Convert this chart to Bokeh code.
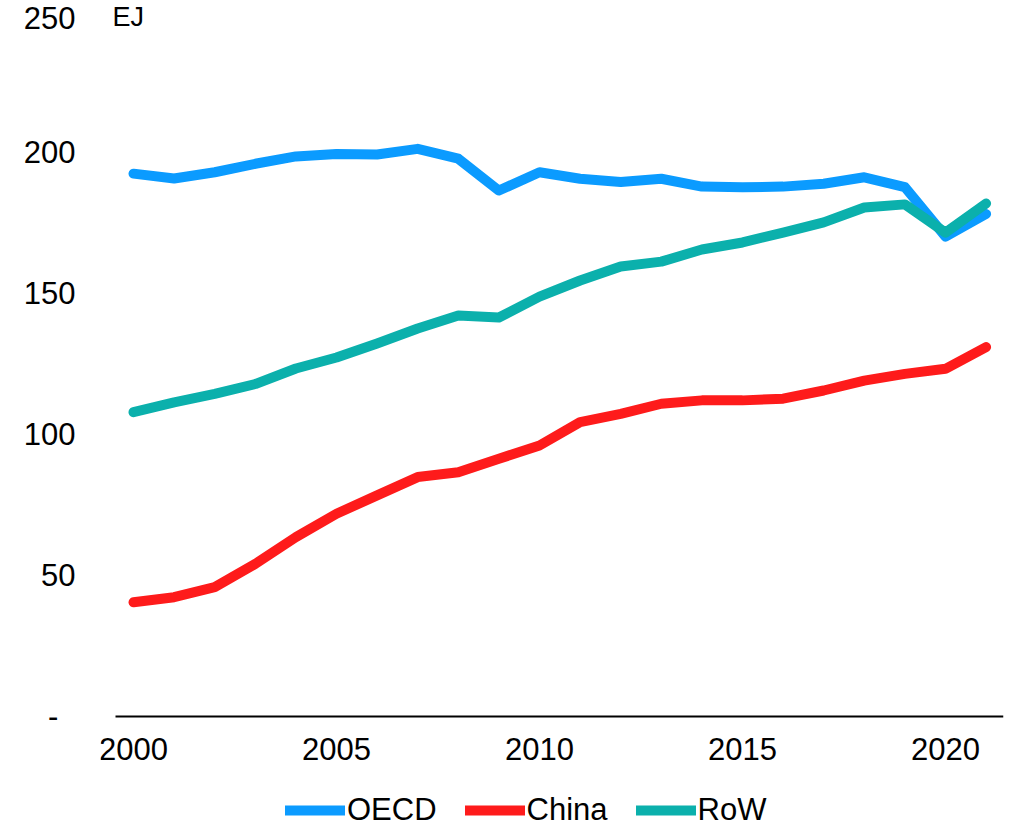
from bokeh.plotting import figure
from bokeh.models import Range1d, FixedTicker, Legend, LegendItem, Label
from bokeh.embed import file_html
from bokeh.resources import INLINE

years = [2000, 2001, 2002, 2003, 2004, 2005, 2006, 2007, 2008, 2009, 2010,
         2011, 2012, 2013, 2014, 2015, 2016, 2017, 2018, 2019, 2020, 2021]
oecd = [192.5, 190.8, 193.0, 196.0, 198.6, 199.5, 199.3, 201.3, 197.8, 186.5, 193.0,
        190.7, 189.5, 190.7, 187.9, 187.7, 187.9, 188.9, 191.2, 187.7, 170.2, 178.2]
china = [40.5, 42.3, 45.9, 54.1, 63.6, 71.9, 78.4, 84.9, 86.6, 91.4, 96.1,
         104.4, 107.3, 110.9, 112.1, 112.1, 112.7, 115.6, 119.1, 121.5, 123.3, 131.0]
row = [107.9, 111.4, 114.4, 117.9, 123.4, 127.3, 132.3, 137.6, 142.2, 141.5, 148.9,
       154.6, 159.6, 161.3, 165.6, 168.1, 171.6, 175.2, 180.5, 181.6, 171.6, 181.9]
series_names = ["OECD", "China", "RoW"]
colors = ["#0b9bff", "#fe1b1b", "#0bb0ac"]
x_ticks = [2000, 2005, 2010, 2015, 2020]
y_ticks = [0, 50, 100, 150, 200, 250]
unit_label = "EJ"

FONT = "Liberation Sans"
FS = "31px"

# geometry: 40.6 px per year, 2.82 px per EJ
X_START, X_END = 1999.187, 2021.429
AXIS_START = 1999.557
Y_START, Y_END = -40.43, 253.9

p = figure(width=1025, height=832, output_backend="svg", toolbar_location=None,
           x_range=Range1d(X_START, X_END), y_range=Range1d(Y_START, Y_END),
           min_border_left=100, min_border_right=22, min_border_top=0,
           min_border_bottom=2)
p.outline_line_color = None
p.xgrid.visible = False
p.ygrid.visible = False
p.background_fill_color = "white"
p.border_fill_color = "white"

renderers = []
for vals, c in zip([oecd, china, row], colors):
    r = p.line(years, vals, line_color=c, line_width=10,
               line_cap="round", line_join="round")
    renderers.append(r)

# x axis (drawn at y = 0)
p.xaxis.fixed_location = 0
p.xaxis.bounds = (AXIS_START, X_END)
p.xaxis.ticker = FixedTicker(ticks=x_ticks)
p.xaxis.axis_line_color = "black"
p.xaxis.axis_line_width = 2
p.xaxis.major_tick_line_color = None
p.xaxis.minor_tick_line_color = None
p.xaxis.major_tick_out = 0
p.xaxis.major_tick_in = 0
p.xaxis.major_label_standoff = 22
p.xaxis.major_label_text_font = FONT
p.xaxis.major_label_text_font_size = FS
p.xaxis.major_label_text_color = "black"

# y axis
p.yaxis.ticker = FixedTicker(ticks=y_ticks)
p.yaxis.axis_line_color = None
p.yaxis.major_tick_line_color = None
p.yaxis.minor_tick_line_color = None
p.yaxis.major_tick_out = 0
p.yaxis.major_tick_in = 0
p.yaxis.major_label_standoff = 25
p.yaxis.major_label_text_font = FONT
p.yaxis.major_label_text_font_size = FS
p.yaxis.major_label_text_color = "black"
p.yaxis.major_label_overrides = {0: "-\u00a0\u00a0"}

# unit label
p.add_layout(Label(x=AXIS_START, y=248, x_offset=-3, text=unit_label,
                   text_font=FONT, text_font_size="27px", text_color="black",
                   text_baseline="middle", text_align="left"))

legend = Legend(items=[LegendItem(label=n, renderers=[r]) for n, r in zip(series_names, renderers)],
                orientation="horizontal", location=(185, 2),
                glyph_width=60, glyph_height=30, label_height=30,
                label_standoff=2, spacing=28, padding=0, margin=0,
                border_line_color=None, background_fill_alpha=0,
                label_text_font=FONT, label_text_font_size=FS,
                label_text_color="black")
p.add_layout(legend, "center")

open("out.html", "w").write(file_html(p, INLINE))
